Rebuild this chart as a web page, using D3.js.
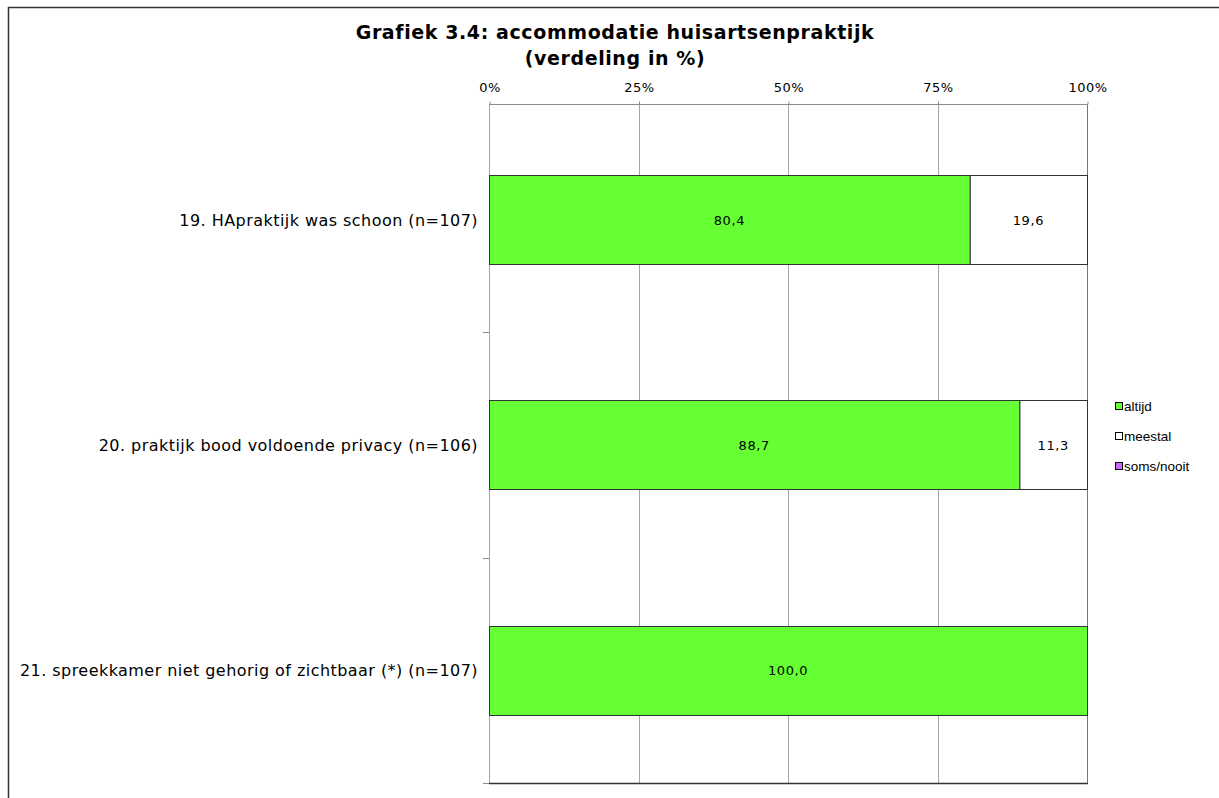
<!DOCTYPE html>
<html>
<head>
    <meta charset="utf-8">
    <style>
        body { margin: 0; background: #fff; }
        svg { display: block; }
        .title { font-family: 'DejaVu Sans', Verdana, sans-serif; font-weight: bold; font-size: 19px; letter-spacing: 0.6px; fill: #000; }
        .x .tick text { font-family: 'DejaVu Sans', Verdana, sans-serif; font-size: 13px; letter-spacing: 0.5px; fill: #000; }
        .cat { font-family: 'DejaVu Sans', Verdana, sans-serif; font-size: 16px; letter-spacing: 0.45px; fill: #000; }
        .val { font-family: 'DejaVu Sans', Verdana, sans-serif; font-size: 13px; letter-spacing: 0.6px; fill: #000; }
        .legend text { font-family: 'Liberation Sans', Arial, sans-serif; font-size: 13.5px; fill: #000; }
    </style>
</head>
<body>
<svg width="1219" height="798"></svg>

<script src="https://d3js.org/d3.v7.min.js"></script>
<script>
    // data
    let categories = ["19. HApraktijk was schoon (n=107)", "20. praktijk bood voldoende privacy (n=106)", "21. spreekkamer niet gehorig of zichtbaar (*) (n=107)"];
    let keys = ["altijd", "meestal", "soms/nooit"];
    let altijd = [80.4, 88.7, 100.0];
    let meestal = [19.6, 11.3, 0];
    let somsNooit = [0, 0, 0];
    let tickValues = [0, 25, 50, 75, 100];

    let colors = ["#66ff33", "#ffffff", "#cc66ff"];

    let svg = d3.select("svg");
    let margin = { top: 104, right: 132, bottom: 15, left: 489 };
    let width = 1219, height = 798;

    // outer frame
    svg.append("path")
        .attr("d", "M8.5,800 L8.5,7.5 L1225,7.5")
        .attr("fill", "none")
        .attr("stroke", "#333")
        .attr("stroke-width", 1.5);

    svg.append("text").attr("class", "title")
        .attr("x", 615).attr("y", 39).attr("text-anchor", "middle")
        .text("Grafiek 3.4: accommodatie huisartsenpraktijk");
    svg.append("text").attr("class", "title")
        .attr("x", 615).attr("y", 65).attr("text-anchor", "middle")
        .text("(verdeling in %)");

    let data = categories.map((c, i) => ({ cat: c, "altijd": altijd[i], "meestal": meestal[i], "soms/nooit": somsNooit[i] }));
    let series = d3.stack().keys(keys)(data);

    let x = d3.scaleLinear()
        .domain([0, 100])
        .range([margin.left, width - margin.right]);

    let y = d3.scaleBand()
        .domain(categories)
        .range([margin.top + 3, height - margin.bottom])
        .paddingInner(0.605)
        .paddingOuter(0.3025);

    // vertical gridlines
    svg.append("g")
        .selectAll("line")
        .data(tickValues)
        .join("line")
        .attr("x1", d => Math.round(x(d)) + 0.5)
        .attr("x2", d => Math.round(x(d)) + 0.5)
        .attr("y1", margin.top)
        .attr("y2", height - margin.bottom)
        .attr("stroke", d => d == 100 ? "#777" : "#a6a6a6");

    // top axis
    let xAxis = svg.append("g")
        .attr("class", "x axis")
        .attr("transform", `translate(0.5,${margin.top + 0.5})`)
        .call(d3.axisTop(x).tickValues(tickValues).tickSize(3).tickPadding(10).tickFormat(d => d + "%"));
    xAxis.select(".domain").attr("stroke", "#8c8c8c").attr("d", `M${x(0)},0H${x(100)}`);
    xAxis.selectAll(".tick line").attr("stroke", "#8c8c8c");

    // left axis ticks between categories
    let step = y.step();
    let bounds = d3.range(categories.length + 1).map(i => y(categories[0]) - step * y.paddingInner() / 2 + i * step);
    svg.append("g")
        .selectAll("line")
        .data(bounds.slice(1))
        .join("line")
        .attr("x1", margin.left - 6)
        .attr("x2", margin.left)
        .attr("y1", d => Math.round(d) + 0.5)
        .attr("y2", d => Math.round(d) + 0.5)
        .attr("stroke", "#8c8c8c");

    // bottom border
    svg.append("line")
        .attr("x1", margin.left).attr("x2", x(100) + 1)
        .attr("y1", height - margin.bottom + 0.5).attr("y2", height - margin.bottom + 0.5)
        .attr("stroke", "#333").attr("stroke-width", 1.5);

    // bars
    let group = svg.append("g")
        .selectAll("g")
        .data(series)
        .join("g")
        .attr("fill", (d, i) => colors[i]);

    group.selectAll("rect")
        .data(d => d.filter(v => v[1] - v[0] > 0))
        .join("rect")
        .attr("x", d => x(d[0]) + 0.5)
        .attr("y", d => Math.round(y(d.data.cat)) + 0.5)
        .attr("width", d => x(d[1]) - x(d[0]))
        .attr("height", Math.round(y.bandwidth()))
        .attr("stroke", "#333")
        .attr("stroke-width", 1);

    // value labels
    group.selectAll("text")
        .data(d => d.filter(v => v[1] - v[0] > 0))
        .join("text")
        .attr("class", "val")
        .attr("x", d => (x(d[0]) + x(d[1])) / 2)
        .attr("y", d => y(d.data.cat) + y.bandwidth() / 2 + 5)
        .attr("text-anchor", "middle")
        .text(d => d3.format(".1f")(d[1] - d[0]).replace(".", ","));

    // category labels
    svg.append("g")
        .selectAll("text")
        .data(categories)
        .join("text")
        .attr("class", "cat")
        .attr("x", margin.left - 11)
        .attr("y", d => y(d) + y.bandwidth() / 2 + 6)
        .attr("text-anchor", "end")
        .text(d => d);

    // legend
    let legend = svg.append("g")
        .attr("class", "legend")
        .selectAll("g")
        .data(keys)
        .join("g")
        .attr("transform", (d, i) => `translate(1115,${402 + i * 30})`);
    legend.append("rect")
        .attr("x", 0.5).attr("y", 0.5)
        .attr("width", 7).attr("height", 7)
        .attr("fill", (d, i) => colors[i])
        .attr("stroke", "#000");
    legend.append("text")
        .attr("x", 9)
        .attr("y", 9)
        .text(d => d);
</script>
</body>
</html>
